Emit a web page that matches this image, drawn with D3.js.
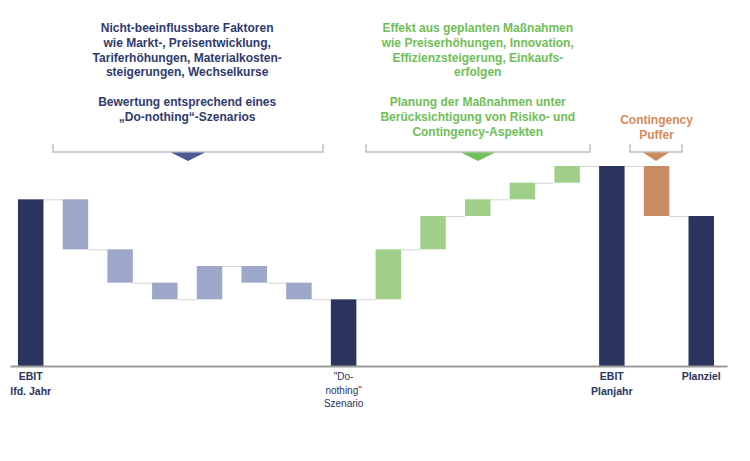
<!DOCTYPE html>
<html>
<head>
<meta charset="utf-8">
<script src="https://cdn.jsdelivr.net/npm/d3@7"></script>
<style>
  html, body { margin: 0; padding: 0; background: #fff; }
  svg { display: block; font-family: "Liberation Sans", Arial, sans-serif; }
</style>
</head>
<body>
<svg id="chart" width="750" height="461"></svg>
<script>
// waterfall steps (arbitrary units, EBIT lfd. Jahr = 100)
const categories = ["EBIT lfd. Jahr", "F1", "F2", "F3", "F4", "F5", "F6", "Do-nothing",
  "M1", "M2", "M3", "M4", "M5", "EBIT Planjahr", "Contingency", "Planziel"]
const kinds = ["total", "factor", "factor", "factor", "factor", "factor", "factor", "total",
  "measure", "measure", "measure", "measure", "measure", "total", "buffer", "total"]
const values = [100, -30, -20, -10, 20, -10, -10, 40, 30, 20, 10, 10, 10, 120, -30, 90]
const tickLabels = [["EBIT", "lfd. Jahr"], [], [], [], [], [], [], ["\"Do-", "nothing\"", "Szenario"],
  [], [], [], [], [], ["EBIT", "Planjahr"], [], ["Planziel"]]

const leftNote = ["Nicht-beeinflussbare Faktoren", "wie Markt-, Preisentwicklung,",
  "Tariferhöhungen, Materialkosten-", "steigerungen, Wechselkurse", "",
  "Bewertung entsprechend eines", "„Do-nothing“-Szenarios"]
const rightNote = ["Effekt aus geplanten Maßnahmen", "wie Preiserhöhungen, Innovation,",
  "Effizienzsteigerung, Einkaufs-", "erfolgen", "",
  "Planung der Maßnahmen unter", "Berücksichtigung von Risiko- und", "Contingency-Aspekten"]
const bufferNote = ["Contingency", "Puffer"]

const colors = { total: "#2a345f", factor: "#9ca7c9", measure: "#9fcf88", buffer: "#c98c62" }

const svg = d3.select("#chart")

const x = d3.scaleBand()
  .domain(categories)
  .range([10, 727])
  .paddingInner(0.43)
  .paddingOuter(0.235)
  .align(0.38)

const y = d3.scaleLinear().domain([0, 120]).range([366, 166])

// running totals -> bar spans
let running = 0
const steps = categories.map((name, i) => {
  let start, end
  if (kinds[i] === "total") {
    start = 0
    end = values[i]
    running = values[i]
  } else {
    start = running
    end = running + values[i]
    running = end
  }
  return { name, kind: kinds[i], start, end, level: running }
})

// connectors
svg.append("g")
  .selectAll("line")
  .data(steps.slice(0, -1))
  .join("line")
  .attr("x1", (d) => x(d.name) + x.bandwidth())
  .attr("x2", (d, i) => x(categories[i + 1]))
  .attr("y1", (d) => y(d.level) + 0.5)
  .attr("y2", (d) => y(d.level) + 0.5)
  .attr("stroke", "#d6d6d6")
  .attr("stroke-width", 1)

// bars
svg.append("g")
  .selectAll("rect")
  .data(steps)
  .join("rect")
  .attr("x", (d) => x(d.name))
  .attr("y", (d) => y(Math.max(d.start, d.end)))
  .attr("width", x.bandwidth())
  .attr("height", (d) => Math.abs(y(d.start) - y(d.end)))
  .attr("fill", (d) => colors[d.kind])

// baseline
svg.append("g")
  .attr("transform", `translate(0,${y(0)})`)
  .call(d3.axisBottom(x).tickSize(0).tickSizeOuter(0).tickFormat(""))
  .call((axis) => axis.select(".domain").attr("stroke", "#9a9a9a").attr("stroke-width", 2))

// category labels
const labels = svg.append("g")
  .selectAll("text")
  .data(steps.filter((d, i) => tickLabels[i].length))
  .join("text")
  .attr("text-anchor", "middle")
  .attr("fill", "#2a345f")
  .attr("font-size", (d) => d.name === "Do-nothing" ? 10 : 10.5)
  .attr("font-weight", (d) => d.name === "Do-nothing" ? "normal" : "bold")

labels.selectAll("tspan")
  .data((d) => tickLabels[categories.indexOf(d.name)].map((t) => ({ t, name: d.name })))
  .join("tspan")
  .attr("x", (d) => x(d.name) + x.bandwidth() / 2)
  .attr("y", (d, i) => 380 + i * (d.name === "Do-nothing" ? 13.5 : 14.5))
  .text((d) => d.t)

// annotation blocks
function note(lines, cx, top, color, lh) {
  svg.append("text")
    .attr("text-anchor", "middle")
    .attr("fill", color)
    .attr("font-size", 12)
    .attr("font-weight", "bold")
    .selectAll("tspan")
    .data(lines)
    .join("tspan")
    .attr("x", cx)
    .attr("y", (d, i) => top + i * lh)
    .text((d) => d)
}

function bracket(x0, x1, color, tri) {
  const g = svg.append("g")
  g.append("path")
    .attr("d", `M${x0},144V152H${x1}V144`)
    .attr("fill", "none")
    .attr("stroke", "#bcc0cc")
    .attr("stroke-width", 1.5)
  const c = (x0 + x1) / 2
  g.append("path")
    .attr("d", `M${c - tri},152.5L${c + tri},152.5L${c},161Z`)
    .attr("fill", color)
}

const leftCx = (x("F1") + x("F6") + x.bandwidth()) / 2
const rightCx = (x("M1") + x("M5") + x.bandwidth()) / 2
const bufCx = x("Contingency") + x.bandwidth() / 2

note(leftNote, leftCx, 32, "#2f3a6e", 14.8)
note(rightNote, rightCx, 32, "#6fbe57", 14.8)
note(bufferNote, bufCx, 124, "#d68a5c", 15)

bracket(53, 323, "#4b5a91", 17)
bracket(366, 590, "#72c05a", 17)
bracket(630, 682, "#c98a5e", 13)
</script>
</body>
</html>
